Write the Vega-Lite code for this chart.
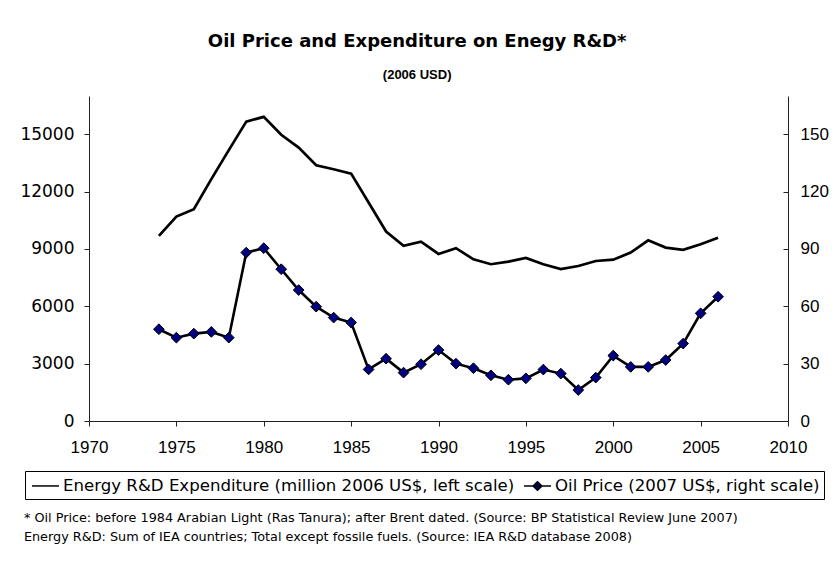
{
  "$schema": "https://vega.github.io/schema/vega-lite/v6.json",
  "background": "white",
  "padding": {"left": 19, "top": 33, "right": 0, "bottom": 5},
  "config": {
    "font": "Liberation Sans",
    "view": {"stroke": null},
    "axis": {"grid": false, "domainColor": "#222", "tickColor": "#222", "labelColor": "black", "labelFont": "Liberation Sans", "labelFontSize": 17}
  },
  "title": {
    "text": ["* Oil Price: before 1984 Arabian Light (Ras Tanura); after Brent dated. (Source: BP Statistical Review  June 2007)", "\u00a0Energy R&D: Sum of IEA countries; Total except fossile fuels. (Source: IEA R&D database 2008)"],
    "orient": "bottom",
    "anchor": "start",
    "frame": "bounds",
    "font": "DejaVu Sans",
    "fontSize": 12.8,
    "fontWeight": "normal",
    "color": "black",
    "lineHeight": 19,
    "offset": 12,
    "dx": 4
  },
  "resolve": {"legend": {"shape": "independent"}},
  "vconcat": [
    {
      "title": {
        "text": "Oil Price and Expenditure on Enegy R&D*",
        "subtitle": "(2006 USD)",
        "font": "DejaVu Sans",
        "fontSize": 18,
        "fontWeight": "bold",
        "color": "black",
        "subtitleFont": "Liberation Sans",
        "subtitleFontSize": 13,
        "subtitleFontWeight": "bold",
        "subtitleColor": "black",
        "subtitlePadding": 18,
        "anchor": "middle",
        "frame": "bounds",
        "offset": 14,
        "dx": -7
      },
      "width": 699,
      "height": 325,
      "data": {"values": [
        {"year": 1974, "series": "Energy R&D Expenditure (million 2006 US$, left scale)", "value": 9680},
        {"year": 1975, "series": "Energy R&D Expenditure (million 2006 US$, left scale)", "value": 10690},
        {"year": 1976, "series": "Energy R&D Expenditure (million 2006 US$, left scale)", "value": 11080},
        {"year": 1977, "series": "Energy R&D Expenditure (million 2006 US$, left scale)", "value": 12650},
        {"year": 1978, "series": "Energy R&D Expenditure (million 2006 US$, left scale)", "value": 14170},
        {"year": 1979, "series": "Energy R&D Expenditure (million 2006 US$, left scale)", "value": 15660},
        {"year": 1980, "series": "Energy R&D Expenditure (million 2006 US$, left scale)", "value": 15910},
        {"year": 1981, "series": "Energy R&D Expenditure (million 2006 US$, left scale)", "value": 14970},
        {"year": 1982, "series": "Energy R&D Expenditure (million 2006 US$, left scale)", "value": 14300},
        {"year": 1983, "series": "Energy R&D Expenditure (million 2006 US$, left scale)", "value": 13380},
        {"year": 1984, "series": "Energy R&D Expenditure (million 2006 US$, left scale)", "value": 13170},
        {"year": 1985, "series": "Energy R&D Expenditure (million 2006 US$, left scale)", "value": 12940},
        {"year": 1986, "series": "Energy R&D Expenditure (million 2006 US$, left scale)", "value": 11430},
        {"year": 1987, "series": "Energy R&D Expenditure (million 2006 US$, left scale)", "value": 9910},
        {"year": 1988, "series": "Energy R&D Expenditure (million 2006 US$, left scale)", "value": 9160},
        {"year": 1989, "series": "Energy R&D Expenditure (million 2006 US$, left scale)", "value": 9380},
        {"year": 1990, "series": "Energy R&D Expenditure (million 2006 US$, left scale)", "value": 8740},
        {"year": 1991, "series": "Energy R&D Expenditure (million 2006 US$, left scale)", "value": 9040},
        {"year": 1992, "series": "Energy R&D Expenditure (million 2006 US$, left scale)", "value": 8460},
        {"year": 1993, "series": "Energy R&D Expenditure (million 2006 US$, left scale)", "value": 8200},
        {"year": 1994, "series": "Energy R&D Expenditure (million 2006 US$, left scale)", "value": 8340},
        {"year": 1995, "series": "Energy R&D Expenditure (million 2006 US$, left scale)", "value": 8530},
        {"year": 1996, "series": "Energy R&D Expenditure (million 2006 US$, left scale)", "value": 8200},
        {"year": 1997, "series": "Energy R&D Expenditure (million 2006 US$, left scale)", "value": 7950},
        {"year": 1998, "series": "Energy R&D Expenditure (million 2006 US$, left scale)", "value": 8110},
        {"year": 1999, "series": "Energy R&D Expenditure (million 2006 US$, left scale)", "value": 8370},
        {"year": 2000, "series": "Energy R&D Expenditure (million 2006 US$, left scale)", "value": 8440},
        {"year": 2001, "series": "Energy R&D Expenditure (million 2006 US$, left scale)", "value": 8810},
        {"year": 2002, "series": "Energy R&D Expenditure (million 2006 US$, left scale)", "value": 9450},
        {"year": 2003, "series": "Energy R&D Expenditure (million 2006 US$, left scale)", "value": 9070},
        {"year": 2004, "series": "Energy R&D Expenditure (million 2006 US$, left scale)", "value": 8950},
        {"year": 2005, "series": "Energy R&D Expenditure (million 2006 US$, left scale)", "value": 9250},
        {"year": 2006, "series": "Energy R&D Expenditure (million 2006 US$, left scale)", "value": 9590},
        {"year": 1974, "series": "Oil Price (2007 US$, right scale)", "value": 48.0},
        {"year": 1975, "series": "Oil Price (2007 US$, right scale)", "value": 43.6},
        {"year": 1976, "series": "Oil Price (2007 US$, right scale)", "value": 45.7},
        {"year": 1977, "series": "Oil Price (2007 US$, right scale)", "value": 46.6},
        {"year": 1978, "series": "Oil Price (2007 US$, right scale)", "value": 43.6},
        {"year": 1979, "series": "Oil Price (2007 US$, right scale)", "value": 88.1},
        {"year": 1980, "series": "Oil Price (2007 US$, right scale)", "value": 90.4},
        {"year": 1981, "series": "Oil Price (2007 US$, right scale)", "value": 79.4},
        {"year": 1982, "series": "Oil Price (2007 US$, right scale)", "value": 68.5},
        {"year": 1983, "series": "Oil Price (2007 US$, right scale)", "value": 59.8},
        {"year": 1984, "series": "Oil Price (2007 US$, right scale)", "value": 54.1},
        {"year": 1985, "series": "Oil Price (2007 US$, right scale)", "value": 51.5},
        {"year": 1986, "series": "Oil Price (2007 US$, right scale)", "value": 27.0},
        {"year": 1987, "series": "Oil Price (2007 US$, right scale)", "value": 32.6},
        {"year": 1988, "series": "Oil Price (2007 US$, right scale)", "value": 25.3},
        {"year": 1989, "series": "Oil Price (2007 US$, right scale)", "value": 29.7},
        {"year": 1990, "series": "Oil Price (2007 US$, right scale)", "value": 37.1},
        {"year": 1991, "series": "Oil Price (2007 US$, right scale)", "value": 30.0},
        {"year": 1992, "series": "Oil Price (2007 US$, right scale)", "value": 27.6},
        {"year": 1993, "series": "Oil Price (2007 US$, right scale)", "value": 23.9},
        {"year": 1994, "series": "Oil Price (2007 US$, right scale)", "value": 21.6},
        {"year": 1995, "series": "Oil Price (2007 US$, right scale)", "value": 22.3},
        {"year": 1996, "series": "Oil Price (2007 US$, right scale)", "value": 26.9},
        {"year": 1997, "series": "Oil Price (2007 US$, right scale)", "value": 24.8},
        {"year": 1998, "series": "Oil Price (2007 US$, right scale)", "value": 16.2},
        {"year": 1999, "series": "Oil Price (2007 US$, right scale)", "value": 22.7},
        {"year": 2000, "series": "Oil Price (2007 US$, right scale)", "value": 34.2},
        {"year": 2001, "series": "Oil Price (2007 US$, right scale)", "value": 28.3},
        {"year": 2002, "series": "Oil Price (2007 US$, right scale)", "value": 28.3},
        {"year": 2003, "series": "Oil Price (2007 US$, right scale)", "value": 31.9},
        {"year": 2004, "series": "Oil Price (2007 US$, right scale)", "value": 40.5},
        {"year": 2005, "series": "Oil Price (2007 US$, right scale)", "value": 56.3},
        {"year": 2006, "series": "Oil Price (2007 US$, right scale)", "value": 65.0}
      ]},
      "encoding": {
        "x": {
          "field": "year", "type": "quantitative",
          "scale": {"domain": [1970, 2010], "nice": false, "zero": false},
          "axis": {"title": null, "values": [1970, 1975, 1980, 1985, 1990, 1995, 2000, 2005, 2010], "format": "d", "tickSize": 5, "labelPadding": 13, "labelFlush": false}
        }
      },
      "layer": [
        {
          "transform": [{"filter": {"field": "series", "equal": "Energy R&D Expenditure (million 2006 US$, left scale)"}}],
          "mark": {"type": "line", "color": "black", "strokeWidth": 2.7},
          "encoding": {
            "y": {
              "field": "value", "type": "quantitative",
              "scale": {"domain": [0, 17000], "nice": false},
              "axis": {"title": null, "orient": "left", "values": [0, 3000, 6000, 9000, 12000, 15000], "format": "d", "tickSize": 5, "labelPadding": 10, "labelFont": "DejaVu Sans", "labelFontSize": 17}
            }
          }
        },
        {
          "transform": [{"filter": {"field": "series", "equal": "Oil Price (2007 US$, right scale)"}}],
          "layer": [
            {"mark": {"type": "line", "color": "black", "strokeWidth": 2.6}},
            {"mark": {"type": "point", "shape": "diamond", "filled": true, "fill": "#000080", "stroke": "black", "strokeWidth": 1, "size": 115, "opacity": 1}}
          ],
          "encoding": {
            "y": {
              "field": "value", "type": "quantitative",
              "scale": {"domain": [0, 170], "nice": false},
              "axis": {"title": null, "orient": "right", "values": [0, 30, 60, 90, 120, 150], "format": "d", "tickSize": -5, "labelPadding": 17}
            }
          }
        },
        {
          "mark": {"type": "point", "filled": true, "fill": "#000080", "stroke": "black", "strokeWidth": 2, "opacity": 0},
          "encoding": {
            "shape": {
              "field": "series", "type": "nominal",
              "scale": {
                "domain": ["Energy R&D Expenditure (million 2006 US$, left scale)", "Oil Price (2007 US$, right scale)"],
                "range": ["M-0.79,0H2.05", "M-0.79,0H2.05M0.16,0L0.63,-0.45L1.1,0L0.63,0.45Z"]
              },
              "legend": {
                "title": null,
                "orient": "none",
                "legendX": -64,
                "legendY": 375,
                "direction": "horizontal",
                "symbolSize": 361,
                "labelFont": "DejaVu Sans",
                "labelFontSize": 16.6,
                "labelColor": "black",
                "labelLimit": 700,
                "labelOffset": 13,
                "columnPadding": 5,
                "strokeColor": "black",
                "padding": 4,
                "encode": {
                  "symbols": {
                    "update": {
                      "stroke": {"value": "black"},
                      "strokeWidth": {"value": 2.4},
                      "fill": {"value": "#000080"},
                      "opacity": {"value": 1},
                      "fillOpacity": {"value": 1},
                      "strokeOpacity": {"value": 1}
                    }
                  }
                }
              }
            }
          }
        }
      ],
      "resolve": {"scale": {"y": "independent"}}
    }
  ]
}
